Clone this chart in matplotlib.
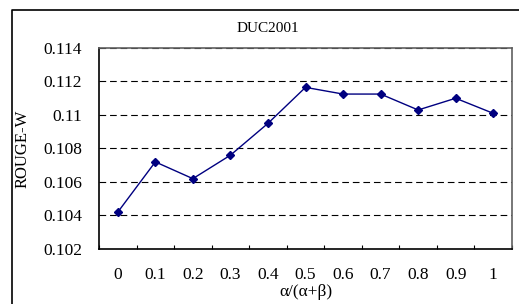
import matplotlib.pyplot as plt
from matplotlib.lines import Line2D
import numpy as np

plt.rcParams['font.family'] = ['Liberation Serif', 'DejaVu Serif']

ratio_labels = ['0', '0.1', '0.2', '0.3', '0.4', '0.5', '0.6', '0.7', '0.8', '0.9', '1']
rouge_w = [0.1042, 0.1072, 0.1062, 0.1076, 0.1095, 0.11165, 0.11125, 0.11125, 0.1103, 0.1110, 0.1101]
y_ticks = [0.102, 0.104, 0.106, 0.108, 0.11, 0.112, 0.114]
y_tick_labels = ['0.102', '0.104', '0.106', '0.108', '0.11', '0.112', '0.114']

fig = plt.figure(figsize=(5.19, 3.04), dpi=100)
ax = fig.add_axes([99 / 519, 55 / 304, 413 / 519, 201 / 304])

x = np.arange(len(ratio_labels))
ax.plot(x, rouge_w, color='#000080', lw=1.0, marker='D', ms=4.5,
        markerfacecolor='#000080', markeredgecolor='#000080', zorder=3)

ax.set_xlim(-0.5, len(ratio_labels) - 0.5)
ax.set_ylim(0.102, 0.114)
ax.set_xticks(x)
ax.set_xticklabels(ratio_labels, fontsize=12.5)
ax.set_xticks(np.arange(len(ratio_labels) + 1) - 0.5, minor=True)
ax.tick_params(axis='x', which='major', length=0, pad=13)
ax.tick_params(axis='x', which='minor', direction='in', length=3, width=0.8)
ax.set_yticks(y_ticks)
ax.set_yticklabels(y_tick_labels, fontsize=12.5)
ax.tick_params(axis='y', length=0, pad=12)

for yv in y_ticks[1:]:
    ax.axhline(yv, color='black', lw=0.8, dashes=(6, 3.5), zorder=2)

for side in ['left', 'bottom']:
    ax.spines[side].set_color('black')
    ax.spines[side].set_linewidth(1.2)
for side in ['right', 'top']:
    ax.spines[side].set_color('#606060')
    ax.spines[side].set_linewidth(1.2)

ax.set_ylabel('ROUGE-W', fontsize=12, labelpad=9)
ax.set_xlabel('α/(α+β)', fontsize=12.5, labelpad=1)
fig.text(268 / 519, 1 - 29 / 304, 'DUC2001', fontsize=11, ha='center', va='center')

# outer frame (left and top edges visible)
fig.add_artist(Line2D([11.5 / 519, 11.5 / 519, 1.0], [0.0, 1 - 10 / 304, 1 - 10 / 304],
                      color='black', lw=1.2, transform=fig.transFigure))

fig.savefig('out.png', dpi=100)
